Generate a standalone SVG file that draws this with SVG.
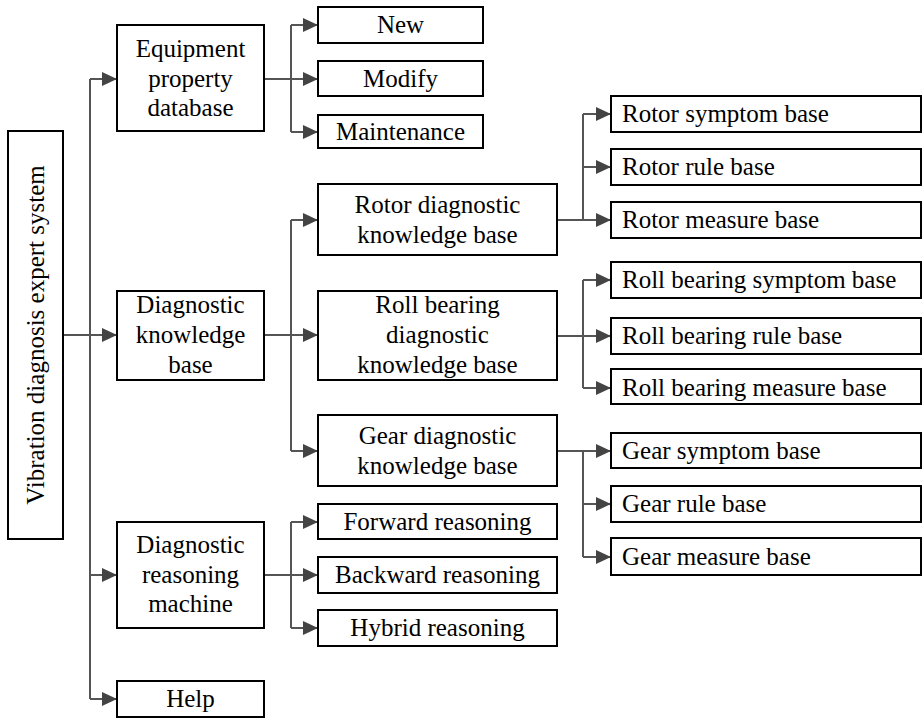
<svg xmlns="http://www.w3.org/2000/svg" width="922" height="718" viewBox="0 0 922 718">
<style>
.box{fill:#fff;stroke:#000;stroke-width:2}
.t{font-family:'Times New Roman','Liberation Serif',Tinos,'DejaVu Serif',serif;font-size:25px;fill:#000;text-anchor:middle}
.tl{font-family:'Times New Roman','Liberation Serif',Tinos,'DejaVu Serif',serif;font-size:25px;fill:#000;text-anchor:start}
.c{fill:none;stroke:#555;stroke-width:2}
</style>
<defs>
<marker id="ah" markerWidth="15" markerHeight="14" refX="15" refY="7" orient="auto" markerUnits="userSpaceOnUse">
<path d="M0,0 L15,7 L0,14 Z" fill="#444"/>
</marker>
</defs>
<g id="connectors">
<path class="c" d="M63,335 H90"/>
<path class="c" d="M90,79 V699"/>
<path class="c" marker-end="url(#ah)" d="M90,79 H117"/>
<path class="c" marker-end="url(#ah)" d="M90,335 H117"/>
<path class="c" marker-end="url(#ah)" d="M90,575 H117"/>
<path class="c" marker-end="url(#ah)" d="M90,699 H117"/>
<path class="c" d="M264,79 H291 M291,25 V132"/>
<path class="c" marker-end="url(#ah)" d="M291,25 H318"/>
<path class="c" marker-end="url(#ah)" d="M291,79 H318"/>
<path class="c" marker-end="url(#ah)" d="M291,132 H318"/>
<path class="c" d="M264,335 H291 M291,220 V451"/>
<path class="c" marker-end="url(#ah)" d="M291,220 H318"/>
<path class="c" marker-end="url(#ah)" d="M291,335 H318"/>
<path class="c" marker-end="url(#ah)" d="M291,451 H318"/>
<path class="c" d="M264,575 H291 M291,522 V628"/>
<path class="c" marker-end="url(#ah)" d="M291,522 H318"/>
<path class="c" marker-end="url(#ah)" d="M291,575 H318"/>
<path class="c" marker-end="url(#ah)" d="M291,628 H318"/>
<path class="c" d="M557,220 H583 M583,114 V220"/>
<path class="c" marker-end="url(#ah)" d="M583,114 H611"/>
<path class="c" marker-end="url(#ah)" d="M583,167 H611"/>
<path class="c" marker-end="url(#ah)" d="M583,220 H611"/>
<path class="c" d="M557,336 H583 M583,280 V388"/>
<path class="c" marker-end="url(#ah)" d="M583,280 H611"/>
<path class="c" marker-end="url(#ah)" d="M583,336 H611"/>
<path class="c" marker-end="url(#ah)" d="M583,388 H611"/>
<path class="c" d="M557,451 H583 M583,451 V557"/>
<path class="c" marker-end="url(#ah)" d="M583,451 H611"/>
<path class="c" marker-end="url(#ah)" d="M583,504 H611"/>
<path class="c" marker-end="url(#ah)" d="M583,557 H611"/>
</g>
<g id="root"><rect class="box" x="8" y="131" width="55" height="408"/><text class="t" transform="translate(35.5,335) rotate(-90)" y="8">Vibration diagnosis expert system</text></g>
<g id="equipment"><rect class="box" x="117" y="25" width="147" height="106"/><text class="t" x="190.5" y="57">Equipment</text><text class="t" x="190.5" y="87">property</text><text class="t" x="190.5" y="116">database</text></g>
<g id="diagkb"><rect class="box" x="117" y="291" width="147" height="89"/><text class="t" x="190.5" y="313">Diagnostic</text><text class="t" x="190.5" y="343">knowledge</text><text class="t" x="190.5" y="373">base</text></g>
<g id="reasoning"><rect class="box" x="117" y="522" width="147" height="106"/><text class="t" x="190.5" y="553">Diagnostic</text><text class="t" x="190.5" y="583">reasoning</text><text class="t" x="190.5" y="612">machine</text></g>
<g id="help"><rect class="box" x="117" y="681" width="147" height="36"/><text class="t" x="190.5" y="707">Help</text></g>
<g id="new"><rect class="box" x="318" y="7" width="165" height="36"/><text class="t" x="400.5" y="33">New</text></g>
<g id="modify"><rect class="box" x="318" y="61" width="165" height="35"/><text class="t" x="400.5" y="87">Modify</text></g>
<g id="maintenance"><rect class="box" x="318" y="115" width="165" height="33"/><text class="t" x="400.5" y="140">Maintenance</text></g>
<g id="rotorkb"><rect class="box" x="318" y="184" width="239" height="71"/><text class="t" x="437.5" y="213">Rotor diagnostic</text><text class="t" x="437.5" y="243">knowledge base</text></g>
<g id="rollkb"><rect class="box" x="318" y="291" width="239" height="89"/><text class="t" x="437.5" y="313">Roll bearing</text><text class="t" x="437.5" y="343">diagnostic</text><text class="t" x="437.5" y="373">knowledge base</text></g>
<g id="gearkb"><rect class="box" x="318" y="415" width="239" height="71"/><text class="t" x="437.5" y="444">Gear diagnostic</text><text class="t" x="437.5" y="474">knowledge base</text></g>
<g id="forward"><rect class="box" x="318" y="504" width="239" height="35"/><text class="t" x="437.5" y="530">Forward reasoning</text></g>
<g id="backward"><rect class="box" x="318" y="557" width="239" height="36"/><text class="t" x="437.5" y="583">Backward reasoning</text></g>
<g id="hybrid"><rect class="box" x="318" y="610" width="239" height="36"/><text class="t" x="437.5" y="636">Hybrid reasoning</text></g>
<g id="rotorsym"><rect class="box" x="611" y="96" width="310" height="36"/><text class="tl" x="622" y="122">Rotor symptom base</text></g>
<g id="rotorrule"><rect class="box" x="611" y="149" width="310" height="36"/><text class="tl" x="622" y="175">Rotor rule base</text></g>
<g id="rotormeas"><rect class="box" x="611" y="202" width="310" height="36"/><text class="tl" x="622" y="228">Rotor measure base</text></g>
<g id="rollsym"><rect class="box" x="611" y="262" width="310" height="36"/><text class="tl" x="622" y="288">Roll bearing symptom base</text></g>
<g id="rollrule"><rect class="box" x="611" y="318" width="310" height="36"/><text class="tl" x="622" y="344">Roll bearing rule base</text></g>
<g id="rollmeas"><rect class="box" x="611" y="369" width="310" height="35"/><text class="tl" x="622" y="396">Roll bearing measure base</text></g>
<g id="gearsym"><rect class="box" x="611" y="433" width="310" height="35"/><text class="tl" x="622" y="459">Gear symptom base</text></g>
<g id="gearrule"><rect class="box" x="611" y="486" width="310" height="36"/><text class="tl" x="622" y="512">Gear rule base</text></g>
<g id="gearmeas"><rect class="box" x="611" y="538" width="310" height="37"/><text class="tl" x="622" y="565">Gear measure base</text></g>
</svg>
